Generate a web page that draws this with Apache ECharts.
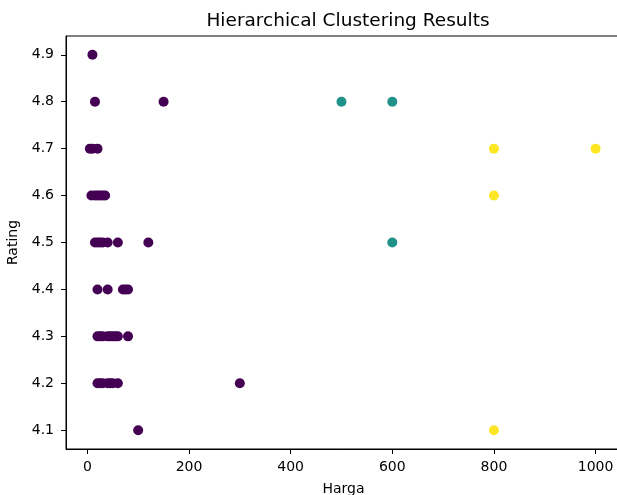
<!DOCTYPE html>
<html>
<head>
<meta charset="utf-8">
<script src="https://cdn.jsdelivr.net/npm/echarts@6/dist/echarts.min.js"></script>
<style>html,body{margin:0;padding:0;background:#fff}#c{width:617px;height:495px}</style>
</head>
<body>
<div id="c"></div>
<script>
// Data
const harga = [
  10,
  15, 150,
  5, 10, 20,
  8, 15, 20, 25, 30, 35,
  15, 20, 25, 30, 40, 60, 120,
  20, 40, 70, 75, 80,
  20, 25, 30, 40, 45, 50, 55, 60, 80,
  20, 25, 30, 40, 45, 50, 60, 300,
  100,
  500, 600, 600,
  800, 1000, 800, 800
];
const rating = [
  4.9,
  4.8, 4.8,
  4.7, 4.7, 4.7,
  4.6, 4.6, 4.6, 4.6, 4.6, 4.6,
  4.5, 4.5, 4.5, 4.5, 4.5, 4.5, 4.5,
  4.4, 4.4, 4.4, 4.4, 4.4,
  4.3, 4.3, 4.3, 4.3, 4.3, 4.3, 4.3, 4.3, 4.3,
  4.2, 4.2, 4.2, 4.2, 4.2, 4.2, 4.2, 4.2,
  4.1,
  4.8, 4.8, 4.5,
  4.7, 4.7, 4.6, 4.1
];
const cluster = [
  0,
  0, 0,
  0, 0, 0,
  0, 0, 0, 0, 0, 0,
  0, 0, 0, 0, 0, 0, 0,
  0, 0, 0, 0, 0,
  0, 0, 0, 0, 0, 0, 0, 0, 0,
  0, 0, 0, 0, 0, 0, 0, 0,
  0,
  1, 1, 1,
  2, 2, 2, 2
];
const clusterColors = ['#440154', '#21918c', '#fde725'];
const xTicks = [0, 200, 400, 600, 800, 1000];
const yTicks = [4.1, 4.2, 4.3, 4.4, 4.5, 4.6, 4.7, 4.8, 4.9];

const font = 'DejaVu Sans';
const series = clusterColors.map((col, k) => ({
  type: 'scatter',
  symbolSize: 10,
  itemStyle: { color: col, opacity: 1 },
  data: harga.map((h, i) => [h, rating[i], cluster[i]]).filter(d => d[2] === k).map(d => [d[0], d[1]]),
  emphasis: { disabled: true },
  silent: true
}));

const chart = echarts.init(document.getElementById('c'), null, { renderer: 'canvas' });
chart.setOption({
  animation: false,
  backgroundColor: '#fff',
  title: {
    text: 'Hierarchical Clustering Results',
    left: 343, top: 7, textAlign: 'center',
    textStyle: { fontFamily: font, fontSize: 18.5, fontWeight: 'normal', color: '#000' }
  },
  grid: { left: 66, top: 36, width: 555, height: 413, show: true, borderColor: '#000', borderWidth: 1,
    backgroundColor: 'transparent', outerBoundsMode: 'none', containLabel: false },
  xAxis: {
    type: 'value', min: -42, max: 1050,
    name: 'Harga', nameLocation: 'middle', nameGap: 33,
    nameTextStyle: { fontFamily: font, fontSize: 14, color: '#000' },
    splitLine: { show: false },
    axisLine: { show: true, onZero: false, lineStyle: { color: '#000', width: 1 } },
    axisTick: { show: true, length: 5, customValues: xTicks, lineStyle: { color: '#000' } },
    axisLabel: { customValues: xTicks, fontFamily: font, fontSize: 14, color: '#000', margin: 11,
      formatter: v => String(v) }
  },
  yAxis: {
    type: 'value', min: 4.06, max: 4.94,
    name: 'Rating', nameLocation: 'middle', nameGap: 44, nameRotate: 90,
    nameTextStyle: { fontFamily: font, fontSize: 14, color: '#000' },
    splitLine: { show: false },
    axisLine: { show: true, onZero: false, lineStyle: { color: '#000', width: 1 } },
    axisTick: { show: true, length: 5, customValues: yTicks, lineStyle: { color: '#000' } },
    axisLabel: { customValues: yTicks, fontFamily: font, fontSize: 14, color: '#000', margin: 12,
      formatter: v => v.toFixed(1) }
  },
  series: series
});
</script>
</body>
</html>
